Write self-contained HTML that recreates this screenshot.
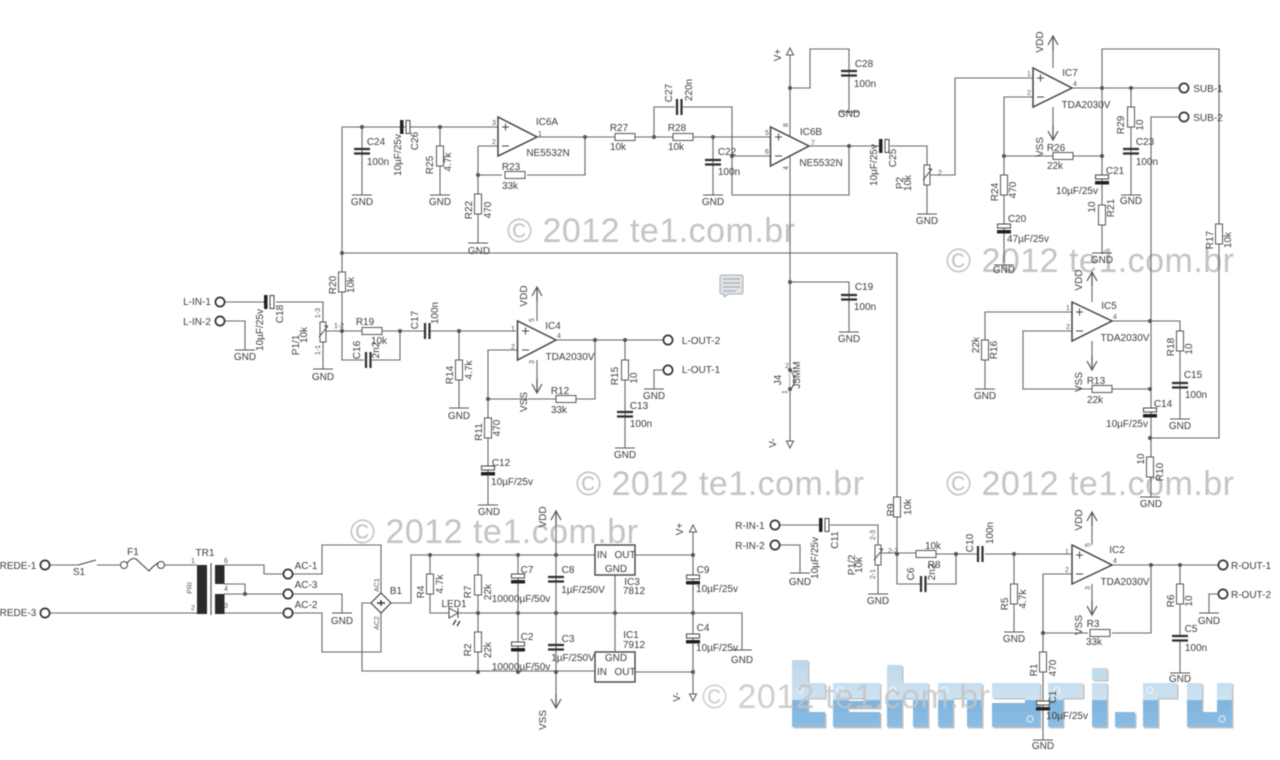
<!DOCTYPE html>
<html><head><meta charset="utf-8"><title>Schematic</title>
<style>
html,body{margin:0;padding:0;background:#fff}
svg{display:block;filter:blur(.4px)}
text{font-family:"Liberation Sans",sans-serif;font-size:10px;fill:#3c3c3c;text-anchor:middle}
.s{font-size:7px;fill:#555}
.w{font-size:34px;fill:#c4c4c4;text-anchor:start}
.l{text-anchor:start}
</style></head><body>
<svg width="1280" height="760" viewBox="0 0 1280 760" xmlns="http://www.w3.org/2000/svg">
<defs>
<linearGradient id="bl" gradientUnits="userSpaceOnUse" x1="0" y1="660" x2="0" y2="728"><stop offset="0" stop-color="#bcd8ec"/><stop offset=".58" stop-color="#cfe2f0"/><stop offset=".6" stop-color="#7fb4de"/><stop offset="1" stop-color="#8dbde2"/></linearGradient>
<path id="logo" fill-rule="evenodd" d="M792 660H808V683H825V698H808V712H825V727H792ZM833 683H880V708H848V712H880V727H833ZM848 698H865V701H848ZM887 665H902V683H928V727H913V698H902V727H887ZM938 683H982V727H967V698H953V727H938ZM992 683H1040V727H992V703H1025V698H992ZM1048 683H1083V698H1063V727H1048ZM1092 668H1107V680H1092ZM1092 683H1107V727H1092ZM1115 712H1135V727H1115ZM1143 683H1177V698H1158V727H1143ZM1187 683H1202V712H1217V683H1232V727H1187Z"/>
<g id="rv"><rect x="-3.5" y="0" width="7" height="20" fill="#fff" stroke="#555" stroke-width="1"/></g>
<g id="rh"><rect x="0" y="-3.5" width="20" height="7" fill="#fff" stroke="#555" stroke-width="1"/></g>
<circle id="d" r="2" fill="#555"/>
<circle id="t" r="4.6" fill="#fff" stroke="#333" stroke-width="1.7"/>
<g id="g"><path d="M-10 0H10" stroke="#555" stroke-width="1.1"/></g>
<g id="ch"><path d="M-8 0H8M-8 4.5H8" stroke="#2e2e2e" stroke-width="2.2"/></g>
<g id="cv"><path d="M0 -8V8M4.5 -8V8" stroke="#2e2e2e" stroke-width="2.2"/></g>
<g id="eh"><rect x="-6.500" y="-3" width="13" height="4" fill="#fff" stroke="#444"/><rect x="-7" y="3" width="14" height="3.500" fill="#222"/></g>
<g id="ev"><rect x="-2" y="-7" width="3.500" height="14" fill="#222"/><rect x="4" y="-6.500" width="4" height="13" fill="#fff" stroke="#444"/></g>
<g id="au"><path d="M0 14V0M-5 9L0 0L5 9" fill="none" stroke="#555" stroke-width="1.200"/></g>
<g id="ad"><path d="M0 -14V0M-5 -9L0 0L5 -9" fill="none" stroke="#555" stroke-width="1.200"/></g>
<g id="pot"><rect x="-3" y="0" width="6" height="20" fill="#fff" stroke="#555"/><path d="M-4 15L5 4M5 4L1 4" stroke="#555" fill="none"/></g>
</defs>
<rect width="1280" height="760" fill="#fff"/>

<!-- copyright marks -->
<text class="w" x="507" y="242" textLength="288">© 2012 te1.com.br</text>
<text class="w" x="946" y="272" textLength="288">© 2012 te1.com.br</text>
<text class="w" x="576" y="495" textLength="288">© 2012 te1.com.br</text>
<text class="w" x="946" y="495" textLength="288">© 2012 te1.com.br</text>
<text class="w" x="350" y="543" textLength="288">© 2012 te1.com.br</text>

<!-- blue logo -->
<use href="#logo" x="1.500" y="1.500" fill="#9a9a9a" opacity=".6"/>
<use href="#logo" fill="url(#bl)"/>
<g fill="none" stroke="#fff" opacity=".8"><circle cx="800" cy="690" r="3"/><circle cx="840" cy="690" r="3"/><circle cx="893" cy="690" r="3"/><circle cx="945" cy="690" r="3"/><circle cx="1030" cy="719" r="3"/><circle cx="1057" cy="690" r="3"/><circle cx="1150" cy="690" r="3"/><circle cx="1222" cy="719" r="3"/></g>
<text class="w" x="702" y="708" textLength="288" opacity=".8">© 2012 te1.com.br</text>

<!-- wires -->
<path fill="none" stroke="#666" stroke-width="1.100" d="
M50 565H78M97 565H120M164 565H197M50 613H197
M224 565H264V574H284M224 584H245V594M224 594H284M224 613H284
M293 574H322V545H381V595M293 594H342V613M293 613H322V652H381V612
M372 603H362V671H595M390 603H411V555H595
M430 555V574M430 594V613H742V650M478 555V575M478 595V652H478V672M518 555V672M556 510V708
M635 555H693M635 672H693M693 527V700M615 575V652
M775 525H820M780 545H800V573M830 525H878V545M878 565V594
M897 253V554M881 553H916M936 554H978M985 554H1072M897 554V584H920M927 584H956V554M1014 554V632
M1072 574H1043V740M1043 633H1088M1112 633H1151V565M1112 565H1218M1180 565V636M1180 640V673M1218 594H1209V613
M342 127H490M342 127V331M342 253H897M362 127V195M402 127H402M412 127H498M440 127V195M478 146H498M478 146V243M478 175H502M527 175H585V137
M537 137H615M635 137H673M693 137H770M713 137V195M654 137V107H675M683 107H732V195H849V146M732 156H770M809 146H879M890 146H927V165M927 185V214
M930 175H955V78H1033M1072 88H1179M1102 88V49H1219V438H1150M1102 88V253M1033 97H1004V263M1004 156H1053M1073 156H1102M1131 88V195M1179 117H1151V497
M790 52V445M790 88H810V49H849V112M790 282H849V332
M225 302H265M276 302H323V322M323 342V369M225 321H245V350M326 331H362M382 331H424M430 331H516M342 331V360H364M372 360H400V331M459 331V408
M556 340H664M517 350H488V505M488 399H556M576 399H595V340M625 340V448M663 370H654V389
M1072 312H985V389M1072 331H1023V389H1092M1112 389H1150M1112 321H1180V419
M537 287V321M537 360V393M1053 36V68M1053 107V140M1092 272V302M1092 341V370M1092 512V545M1092 584V615"/>

<!-- op-amps -->
<g fill="#fff" stroke="#444" stroke-width="1.500">
<path d="M498 117V156L537 137Z"/><path d="M770.500 127V166L809 146Z"/><path d="M1033 68V107L1072 88Z"/><path d="M1072 302V341L1112 321Z"/><path d="M517.500 321V360L556 340Z"/><path d="M1072 545V584L1112 565Z"/>
</g>
<g fill="none" stroke="#444" stroke-width="1"><path d="M502 127H509M505.500 123.500V130.500M502 146H509M775 137H782M778.500 133.500V140.500M775 156H782M1037 78H1044M1040.500 74.500V81.500M1037 97H1044M1076 312H1083M1079.500 308.500V315.500M1076 331H1083M522 331H529M525.500 327.500V334.500M522 350H529M1076 555H1083M1079.500 551.500V558.500M1076 574H1083"/></g>

<!-- resistors -->
<use href="#rv" x="430" y="574"/><use href="#rv" x="478" y="575"/><use href="#rv" x="478" y="632"/>
<use href="#rv" x="897" y="497"/><use href="#rh" x="916" y="554"/><use href="#rv" x="1014" y="584"/><use href="#rv" x="1043" y="652"/><use href="#rh" x="1090" y="633"/><use href="#rv" x="1180" y="584"/>
<use href="#rv" x="342" y="272"/><use href="#rh" x="362" y="331"/><use href="#rv" x="459" y="360"/><use href="#rv" x="488" y="418"/><use href="#rh" x="556" y="399"/><use href="#rv" x="625" y="360"/>
<use href="#rv" x="440" y="146"/><use href="#rv" x="478" y="194"/><use href="#rh" x="505" y="175"/><use href="#rh" x="615" y="137"/><use href="#rh" x="673" y="137"/>
<use href="#rv" x="1004" y="175"/><use href="#rh" x="1053" y="156"/><use href="#rv" x="1131" y="107"/><use href="#rv" x="1102" y="205"/><use href="#rv" x="1219" y="224"/>
<use href="#rv" x="985" y="340"/><use href="#rh" x="1092" y="389"/><use href="#rv" x="1180" y="331"/><use href="#rv" x="1150" y="457"/>

<!-- capacitors -->
<g>
<rect x="550" y="570" width="13" height="14" fill="#fff" opacity="0"/>
<use href="#ch" x="556" y="577"/><use href="#ch" x="556" y="645"/><use href="#ch" x="1180" y="636"/><use href="#ch" x="625" y="412"/><use href="#ch" x="362" y="149"/><use href="#ch" x="713" y="160"/><use href="#ch" x="849" y="71"/><use href="#ch" x="849" y="295"/><use href="#ch" x="1131" y="149"/><use href="#ch" x="1180" y="383"/>
<use href="#cv" x="978" y="554"/><use href="#cv" x="921" y="584"/><use href="#cv" x="425" y="331"/><use href="#cv" x="366" y="360"/><use href="#cv" x="677" y="107"/>
<use href="#eh" x="518" y="577"/><use href="#eh" x="518" y="645"/><use href="#eh" x="693" y="578"/><use href="#eh" x="693" y="637"/><use href="#eh" x="1043" y="704"/><use href="#eh" x="488" y="469"/><use href="#eh" x="1102" y="178"/><use href="#eh" x="1004" y="227"/><use href="#eh" x="1150" y="411"/>
<use href="#ev" x="821" y="525"/><use href="#ev" x="266" y="302"/><use href="#ev" x="402" y="127"/><use href="#ev" x="881" y="146"/>
</g>

<!-- pots -->
<use href="#pot" x="878" y="545"/><use href="#pot" x="323" y="322"/><use href="#pot" x="927" y="165"/>

<!-- junction dots -->
<g>
<use href="#d" x="245" y="594"/><use href="#d" x="430" y="555"/><use href="#d" x="478" y="555"/><use href="#d" x="518" y="555"/><use href="#d" x="556" y="555"/><use href="#d" x="693" y="555"/><use href="#d" x="478" y="613"/><use href="#d" x="518" y="613"/><use href="#d" x="556" y="613"/><use href="#d" x="615" y="613"/><use href="#d" x="693" y="613"/><use href="#d" x="478" y="672"/><use href="#d" x="518" y="672"/><use href="#d" x="556" y="672"/><use href="#d" x="693" y="672"/>
<use href="#d" x="897" y="554"/><use href="#d" x="956" y="554"/><use href="#d" x="1014" y="554"/><use href="#d" x="1043" y="633"/><use href="#d" x="1151" y="565"/><use href="#d" x="1180" y="565"/>
<use href="#d" x="342" y="253"/><use href="#d" x="362" y="127"/><use href="#d" x="440" y="127"/><use href="#d" x="478" y="175"/><use href="#d" x="585" y="137"/><use href="#d" x="654" y="137"/><use href="#d" x="713" y="137"/><use href="#d" x="732" y="156"/><use href="#d" x="849" y="146"/><use href="#d" x="790" y="88"/><use href="#d" x="790" y="282"/>
<use href="#d" x="1102" y="88"/><use href="#d" x="1131" y="88"/><use href="#d" x="1004" y="156"/><use href="#d" x="1102" y="156"/><use href="#d" x="1150" y="321"/><use href="#d" x="1150" y="389"/><use href="#d" x="1150" y="438"/>
<use href="#d" x="342" y="331"/><use href="#d" x="400" y="331"/><use href="#d" x="459" y="331"/><use href="#d" x="488" y="399"/><use href="#d" x="595" y="340"/><use href="#d" x="625" y="340"/>
</g>

<!-- terminals -->
<use href="#t" x="45" y="565"/><use href="#t" x="45" y="613"/><use href="#t" x="288" y="574"/><use href="#t" x="288" y="594"/><use href="#t" x="288" y="613"/><use href="#t" x="775" y="525"/><use href="#t" x="775" y="545"/><use href="#t" x="1223" y="565"/><use href="#t" x="1223" y="594"/><use href="#t" x="220" y="302"/><use href="#t" x="220" y="321"/><use href="#t" x="668" y="340"/><use href="#t" x="668" y="370"/><use href="#t" x="1184" y="88"/><use href="#t" x="1184" y="117"/>

<!-- ground bars -->
<use href="#g" x="342" y="613"/><use href="#g" x="742" y="650"/><use href="#g" x="800" y="573"/><use href="#g" x="878" y="594"/><use href="#g" x="1014" y="632"/><use href="#g" x="1043" y="740"/><use href="#g" x="1180" y="673"/><use href="#g" x="1209" y="613"/>
<use href="#g" x="362" y="195"/><use href="#g" x="440" y="195"/><use href="#g" x="478" y="243"/><use href="#g" x="713" y="195"/><use href="#g" x="849" y="112"/><use href="#g" x="849" y="332"/><use href="#g" x="927" y="214"/><use href="#g" x="1004" y="265"/><use href="#g" x="1102" y="253"/><use href="#g" x="1131" y="195"/>
<use href="#g" x="245" y="350"/><use href="#g" x="323" y="369"/><use href="#g" x="459" y="408"/><use href="#g" x="488" y="505"/><use href="#g" x="625" y="448"/><use href="#g" x="654" y="389"/><use href="#g" x="985" y="389"/><use href="#g" x="1180" y="419"/><use href="#g" x="1150" y="497"/>

<!-- power arrows -->
<use href="#au" x="556" y="511"/><use href="#ad" x="556" y="708"/><use href="#au" x="537" y="287"/><use href="#ad" x="537" y="393"/><use href="#au" x="1053" y="36"/><use href="#ad" x="1053" y="140"/><use href="#au" x="1092" y="272"/><use href="#ad" x="1092" y="370"/><use href="#au" x="1092" y="512"/><use href="#ad" x="1092" y="615"/>
<g fill="#fff" stroke="#555"><path d="M693 525L689.500 532H696.500Z"/><path d="M693 701L689.500 694H696.500Z"/><path d="M790 48L786.500 55H793.500Z"/><path d="M790 448L786.500 441H793.500Z"/></g>

<!-- transformer, switch, fuse, bridge, led -->
<rect x="197" y="565" width="10" height="49" fill="#2a2a2a"/><rect x="215" y="565" width="9.500" height="19" fill="#2a2a2a"/><rect x="215" y="594" width="9.500" height="20" fill="#2a2a2a"/>
<path d="M211 563V615" stroke="#555" stroke-width="1.200"/>
<path d="M78 565L96 560" stroke="#444" stroke-width="1.100"/>
<circle cx="124" cy="565" r="3.500" fill="#fff" stroke="#444"/><circle cx="161" cy="565" r="3.500" fill="#fff" stroke="#444"/>
<path d="M127 563Q132 557 136 559L149 571Q153 566 158 563" fill="none" stroke="#444" stroke-width="1.100"/>
<path d="M381 593L391 603L381 613L371 603Z" fill="#fff" stroke="#444" stroke-width="1.200"/><path d="M377 603H385M381 600V606" stroke="#333" stroke-width="1.400"/>
<path d="M449 608L458 613L449 618Z" fill="#fff" stroke="#444"/><path d="M458 608V618" stroke="#444"/>
<path d="M456 620L453 625M460 621L457 626" stroke="#333" stroke-width="1.300"/>
<rect x="595" y="545" width="40" height="30" fill="#fff" stroke="#444" stroke-width="1.400"/><rect x="595" y="652" width="40" height="30" fill="#fff" stroke="#444" stroke-width="1.400"/>
<path d="M790 370Q799 380 790 390" fill="#fff" stroke="#555"/><use href="#d" x="790" y="370"/><use href="#d" x="790" y="389"/>
<path d="M723 275H741Q743 275 743 277V292Q743 294 741 294H729L724 297V294H722Q720 294 720 292V277Q720 275 723 275Z" fill="#dfe3e6" stroke="#a9b0b5"/><path d="M723 279H740M723 283H740M723 287H740M723 291H736" stroke="#9aa3a9"/>

<!-- labels -->
<g>
<text x="18" y="569">REDE-1</text><text x="18" y="616">REDE-3</text><text x="79" y="575">S1</text><text x="133" y="555">F1</text><text x="205" y="556">TR1</text>
<text x="306" y="569">AC-1</text><text x="306" y="588">AC-3</text><text x="306" y="608">AC-2</text><text x="342" y="624">GND</text><text x="396" y="594">B1</text>
<text class="s" x="193" y="563">1</text><text class="s" x="193" y="610">2</text><text class="s" x="226" y="563">6</text><text class="s" x="226" y="591">4</text><text class="s" x="226" y="608">3</text>
<text class="s" transform="rotate(-90 379 585)" x="379" y="585">AC1</text><text class="s" transform="rotate(-90 379 623)" x="379" y="623">AC2</text><text class="s" transform="rotate(-90 192 588)" x="192" y="588">PRI</text>
<text transform="rotate(-90 424 592)" x="424" y="592">R4</text><text transform="rotate(-90 443 584)" x="443" y="584">4.7k</text><text transform="rotate(-90 471 592)" x="471" y="592">R7</text><text transform="rotate(-90 491 592)" x="491" y="592">22k</text><text x="454" y="607">LED1</text>
<text x="527" y="573">C7</text><text x="521" y="602">10000µF/50v</text><text x="568" y="573">C8</text><text x="583" y="593">1µF/250V</text><text x="632" y="585">IC3</text><text x="634" y="594">7812</text><text x="703" y="573">C9</text><text x="717" y="592">10µF/25v</text>
<text x="527" y="640">C2</text><text x="521" y="670">10000µF/50v</text><text transform="rotate(-90 471 650)" x="471" y="650">R2</text><text transform="rotate(-90 491 650)" x="491" y="650">22k</text><text x="568" y="642">C3</text><text x="573" y="661">1µF/250V</text><text x="631" y="638">IC1</text><text x="634" y="648">7912</text><text x="703" y="631">C4</text><text x="717" y="651">10µF/25v</text>
<text x="602" y="558">IN</text><text x="625" y="558">OUT</text><text x="616" y="572">GND</text><text x="616" y="661">GND</text><text x="602" y="675">IN</text><text x="625" y="675">OUT</text>
<text transform="rotate(-90 546 517)" x="546" y="517">VDD</text><text transform="rotate(-90 546 720)" x="546" y="720">VSS</text><text transform="rotate(-90 683 529)" x="683" y="529">V+</text><text transform="rotate(-90 680 697)" x="680" y="697">V-</text><text x="742" y="663">GND</text>
<text x="750" y="529">R-IN-1</text><text x="750" y="549">R-IN-2</text><text x="800" y="585">GND</text><text x="878" y="604">GND</text>
<text transform="rotate(-90 838 540)" x="838" y="540">C11</text><text transform="rotate(-90 818 558)" x="818" y="558">10µF/25v</text><text transform="rotate(-90 855 565)" x="855" y="565">P1/2</text><text transform="rotate(-90 862 565)" x="862" y="565">10k</text><text class="s" transform="rotate(-90 875 535)" x="875" y="535">2-3</text><text class="s" transform="rotate(-90 875 574)" x="875" y="574">2-1</text><text class="s" x="893" y="553">2-2</text>
<text transform="rotate(-90 894 510)" x="894" y="510">R9</text><text transform="rotate(-90 911 507)" x="911" y="507">10k</text><text x="933" y="549">10k</text><text x="934" y="568">R8</text><text transform="rotate(-90 914 574)" x="914" y="574">C6</text><text transform="rotate(-90 935 572)" x="935" y="572">2n2</text>
<text transform="rotate(-90 973 543)" x="973" y="543">C10</text><text transform="rotate(-90 993 533)" x="993" y="533">100n</text><text transform="rotate(-90 1008 604)" x="1008" y="604">R5</text><text transform="rotate(-90 1026 599)" x="1026" y="599">4.7k</text><text x="1014" y="642">GND</text>
<text x="1117" y="553">IC2</text><text x="1125" y="585">TDA2030V</text><text transform="rotate(-90 1082 520)" x="1082" y="520">VDD</text><text transform="rotate(-90 1082 625)" x="1082" y="625">VSS</text><text x="1093" y="627">R3</text><text x="1094" y="645">33k</text>
<text class="s" x="1067" y="554">1</text><text class="s" x="1067" y="572">2</text><text class="s" x="1115" y="563">4</text><text class="s" transform="rotate(-90 1090 545)" x="1090" y="545">5</text><text class="s" transform="rotate(-90 1090 588)" x="1090" y="588">3</text>
<text transform="rotate(-90 1174 601)" x="1174" y="601">R6</text><text transform="rotate(-90 1192 601)" x="1192" y="601">10</text><text x="1191" y="632">C5</text><text x="1196" y="651">100n</text><text x="1180" y="682">GND</text><text x="1209" y="624">GND</text><text x="1251" y="569">R-OUT-1</text><text x="1251" y="598">R-OUT-2</text>
<text transform="rotate(-90 1037 670)" x="1037" y="670">R1</text><text transform="rotate(-90 1056 668)" x="1056" y="668">470</text><text transform="rotate(-90 1056 697)" x="1056" y="697">C1</text><text x="1067" y="719">10µF/25v</text><text x="1043" y="749">GND</text>

<text x="197" y="305">L-IN-1</text><text x="197" y="325">L-IN-2</text><text x="245" y="360">GND</text><text x="323" y="380">GND</text><text x="459" y="419">GND</text>
<text transform="rotate(-90 263 330)" x="263" y="330">10µF/25v</text><text transform="rotate(-90 283 314)" x="283" y="314">C18</text><text transform="rotate(-90 299 345)" x="299" y="345">P1/1</text><text transform="rotate(-90 307 335)" x="307" y="335">10k</text><text class="s" transform="rotate(-90 320 313)" x="320" y="313">1-3</text><text class="s" transform="rotate(-90 320 350)" x="320" y="350">1-1</text><text class="s" x="339" y="328">1-2</text>
<text transform="rotate(-90 336 285)" x="336" y="285">R20</text><text transform="rotate(-90 354 285)" x="354" y="285">10k</text><text x="365" y="325">R19</text><text x="379" y="344">10k</text><text transform="rotate(-90 360 350)" x="360" y="350">C16</text><text transform="rotate(-90 379 350)" x="379" y="350">2n2</text><text transform="rotate(-90 418 320)" x="418" y="320">C17</text><text transform="rotate(-90 438 313)" x="438" y="313">100n</text>
<text transform="rotate(-90 453 375)" x="453" y="375">R14</text><text transform="rotate(-90 472 370)" x="472" y="370">4.7k</text><text transform="rotate(-90 482 432)" x="482" y="432">R11</text><text transform="rotate(-90 500 428)" x="500" y="428">470</text><text x="501" y="466">C12</text><text x="512" y="485">10µF/25v</text><text x="489" y="515">GND</text>
<text x="553" y="329">IC4</text><text x="570" y="360">TDA2030V</text><text transform="rotate(-90 527 296)" x="527" y="296">VDD</text><text transform="rotate(-90 527 402)" x="527" y="402">VSS</text><text x="560" y="394">R12</text><text x="559" y="413">33k</text>
<text class="s" x="513" y="331">1</text><text class="s" x="513" y="349">2</text><text class="s" x="559" y="338">4</text><text class="s" transform="rotate(-90 534 320)" x="534" y="320">5</text><text class="s" transform="rotate(-90 534 362)" x="534" y="362">3</text>
<text transform="rotate(-90 618 376)" x="618" y="376">R15</text><text transform="rotate(-90 637 378)" x="637" y="378">10</text><text x="639" y="409">C13</text><text x="641" y="427">100n</text><text x="625" y="458">GND</text><text x="654" y="399">GND</text><text x="701" y="344">L-OUT-2</text><text x="701" y="373">L-OUT-1</text>
<text transform="rotate(-90 781 380)" x="781" y="380">J4</text><text class="s" transform="rotate(-90 787 392)" x="787" y="392">1</text><text class="s" x="787" y="368">2</text><text transform="rotate(-90 800 375)" x="800" y="375">J5MM</text><text transform="rotate(-90 776 443)" x="776" y="443">V-</text>

<text x="376" y="145">C24</text><text x="378" y="165">100n</text><text x="362" y="205">GND</text><text transform="rotate(-90 401 155)" x="401" y="155">10µF/25v</text><text transform="rotate(-90 418 141)" x="418" y="141">C26</text><text transform="rotate(-90 433 165)" x="433" y="165">R25</text><text transform="rotate(-90 451 162)" x="451" y="162">4.7k</text><text x="440" y="205">GND</text>
<text x="547" y="125">IC6A</text><text x="548" y="156">NE5532N</text><text class="s" x="494" y="125">3</text><text class="s" x="494" y="144">2</text><text class="s" x="540" y="136">1</text><text x="511" y="170">R23</text><text x="510" y="189">33k</text><text transform="rotate(-90 472 210)" x="472" y="210">R22</text><text transform="rotate(-90 491 210)" x="491" y="210">470</text><text x="479" y="254">GND</text>
<text x="619" y="131">R27</text><text x="618" y="150">10k</text><text x="677" y="131">R28</text><text x="676" y="150">10k</text><text transform="rotate(-90 672 93)" x="672" y="93">C27</text><text transform="rotate(-90 692 90)" x="692" y="90">220n</text><text x="727" y="155">C22</text><text x="729" y="175">100n</text><text x="713" y="205">GND</text>
<text transform="rotate(-90 781 55)" x="781" y="55">V+</text><text x="864" y="67">C28</text><text x="865" y="87">100n</text><text x="849" y="117">GND</text><text x="811" y="135">IC6B</text><text x="821" y="166">NE5532N</text><text class="s" x="767" y="135">5</text><text class="s" x="767" y="154">6</text><text class="s" x="813" y="145">7</text><text class="s" transform="rotate(-90 788 125)" x="788" y="125">8</text><text class="s" transform="rotate(-90 788 168)" x="788" y="168">4</text>
<text transform="rotate(-90 877 165)" x="877" y="165">10µF/25v</text><text transform="rotate(-90 896 158)" x="896" y="158">C25</text><text transform="rotate(-90 903 183)" x="903" y="183">P2</text><text transform="rotate(-90 911 183)" x="911" y="183">10k</text><text class="s" x="940" y="175">2</text><text x="927" y="224">GND</text>
<text x="864" y="290">C19</text><text x="865" y="310">100n</text><text x="849" y="342">GND</text>

<text x="1070" y="76">IC7</text><text x="1086" y="108">TDA2030V</text><text transform="rotate(-90 1043 42)" x="1043" y="42">VDD</text><text transform="rotate(-90 1043 147)" x="1043" y="147">VSS</text><text class="s" x="1029" y="76">1</text><text class="s" x="1029" y="95">2</text><text class="s" x="1075" y="86">4</text><text x="1056" y="151">R26</text><text x="1055" y="169">22k</text>
<text transform="rotate(-90 998 192)" x="998" y="192">R24</text><text transform="rotate(-90 1016 190)" x="1016" y="190">470</text><text x="1017" y="222">C20</text><text x="1028" y="242">47µF/25v</text><text x="1004" y="273">GND</text><text x="1115" y="174">C21</text><text x="1077" y="194">10µF/25v</text><text transform="rotate(-90 1095 207)" x="1095" y="207">10</text><text transform="rotate(-90 1114 208)" x="1114" y="208">R21</text><text x="1102" y="263">GND</text>
<text transform="rotate(-90 1124 125)" x="1124" y="125">R29</text><text transform="rotate(-90 1143 125)" x="1143" y="125">10</text><text x="1145" y="145">C23</text><text x="1147" y="165">100n</text><text x="1131" y="204">GND</text><text x="1208" y="92">SUB-1</text><text x="1208" y="121">SUB-2</text><text transform="rotate(-90 1213 240)" x="1213" y="240">R17</text><text transform="rotate(-90 1231 240)" x="1231" y="240">10k</text>
<text x="1109" y="309">IC5</text><text x="1125" y="341">TDA2030V</text><text transform="rotate(-90 1082 280)" x="1082" y="280">VDD</text><text transform="rotate(-90 1082 382)" x="1082" y="382">VSS</text><text x="1096" y="384">R13</text><text x="1095" y="403">22k</text><text class="s" x="1068" y="310">1</text><text class="s" x="1068" y="329">2</text><text class="s" x="1115" y="319">4</text>
<text transform="rotate(-90 979 345)" x="979" y="345">22k</text><text transform="rotate(-90 997 350)" x="997" y="350">R16</text><text x="985" y="399">GND</text><text transform="rotate(-90 1174 347)" x="1174" y="347">R18</text><text transform="rotate(-90 1192 349)" x="1192" y="349">10</text><text x="1193" y="378">C15</text><text x="1196" y="398">100n</text><text x="1180" y="429">GND</text>
<text x="1163" y="407">C14</text><text x="1127" y="427">10µF/25v</text><text transform="rotate(-90 1144 459)" x="1144" y="459">10</text><text transform="rotate(-90 1163 472)" x="1163" y="472">R10</text><text x="1151" y="507">GND</text>
</g>
</svg>
</body></html>
